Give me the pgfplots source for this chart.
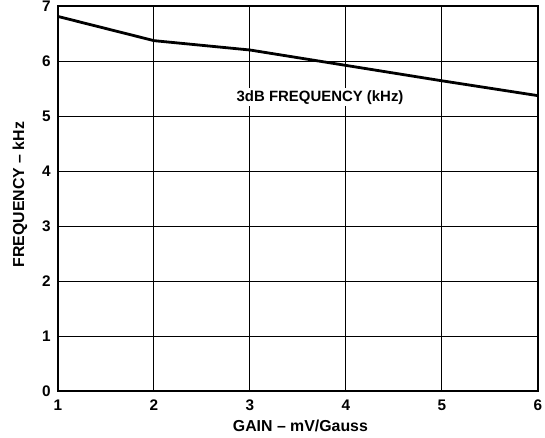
\documentclass[border=0pt]{standalone}
\usepackage{pgfplots}
\pgfplotsset{compat=1.18}
\usepackage{fontspec}
\setmainfont{Liberation Sans}
\begin{document}
\begin{tikzpicture}
\useasboundingbox (-43.5pt,-34.5pt) rectangle (365.25pt,293.25pt);
\begin{axis}[
  at={(0,0)}, anchor=south west,
  width=360pt, height=288.75pt, scale only axis,
  xmin=1, xmax=6, ymin=0, ymax=7,
  xtick={1,2,3,4,5,6}, ytick={0,1,2,3,4,5,6,7},
  grid=major, grid style={black, line width=0.75pt},
  axis line style={line width=1.75pt},
  tick style={draw=none},
  /pgf/number format/assume math mode=true,
  ticklabel style={font=\fontsize{11.5}{14}\selectfont\bfseries},
  xticklabel style={yshift=-3pt},
  yticklabel style={xshift=-2pt},
  xlabel={\fontsize{11.9}{14}\selectfont\bfseries GAIN – mV/Gauss},
  ylabel={\fontsize{11.9}{14}\selectfont\bfseries FREQUENCY – kHz},
  xlabel style={at={(axis description cs:0.505,-0.1039)}, anchor=base},
  ylabel style={at={(axis description cs:-0.0708,0.5104)}, anchor=base, rotate=0},
]
\addplot[black, line width=2.1pt] coordinates {
  (1,6.81) (2,6.37) (3,6.20) (4,5.92) (5,5.64) (6,5.37)
};
\node[fill=white, inner sep=1.5pt, anchor=base, font=\fontsize{11.2}{14}\selectfont\bfseries] at (axis cs:3.73,5.27) {3dB FREQUENCY (kHz)};
\end{axis}
\end{tikzpicture}
\end{document}
